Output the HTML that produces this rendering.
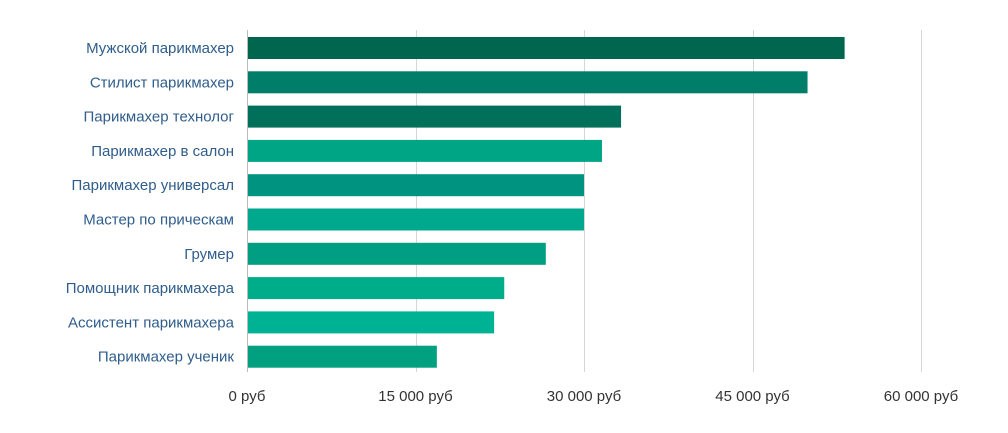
<!DOCTYPE html>
<html><head><meta charset="utf-8"><style>
body{margin:0;background:#fff;}
svg{display:block;font-family:"Liberation Sans",Arial,sans-serif;}
</style></head><body>
<svg width="1008" height="433" viewBox="0 0 1008 433" xmlns="http://www.w3.org/2000/svg">
<g id="grid"></g>
<g id="bars"></g>
<g id="labels"></g>
<g id="ticks"></g>
<line x1="247.5" y1="30" x2="247.5" y2="372" stroke="#bbb" stroke-width="1"/>
</svg>
<script>
const categories=["Мужской парикмахер","Стилист парикмахер","Парикмахер технолог","Парикмахер в салон","Парикмахер универсал","Мастер по прическам","Грумер","Помощник парикмахера","Ассистент парикмахера","Парикмахер ученик"];
const values=[53200,49900,33300,31600,30000,30000,26600,22900,22000,16900];
const colors=["#00664d","#007e6a","#00705a","#00a585","#009480","#00a88e","#009e82","#00ad8a","#00b294","#00a080"];
const tickValues=[0,15000,30000,45000,60000];
const tickLabels=["0 руб","15 000 руб","30 000 руб","45 000 руб","60 000 руб"];
const NS="http://www.w3.org/2000/svg";
const x=v=>247+v*(921-247)/60000;
const y=i=>37+i*34.3;
function mk(t,a,p){const e=document.createElementNS(NS,t);for(const k in a)e.setAttribute(k,a[k]);p.appendChild(e);return e;}
const G=document.getElementById('grid'),B=document.getElementById('bars'),L=document.getElementById('labels'),T=document.getElementById('ticks');
tickValues.forEach((v,i)=>{
 if(v>0){const g=mk('line',{x1:Math.round(x(v))+.5,x2:Math.round(x(v))+.5,y1:30,y2:372,stroke:'#d6d6d6','stroke-width':1},G);
 
 }
 const t=mk('text',{x:x(v),y:401,'text-anchor':'middle','font-size':15,fill:'#333'},T);t.textContent=tickLabels[i];
 
 
});
categories.forEach((c,i)=>{
 const r=mk('rect',{x:248,y:y(i),width:x(values[i])-248,height:22,fill:colors[i]},B);
 
 
 const t=mk('text',{x:234,y:y(i)+16,'text-anchor':'end','font-size':15,fill:'#2f5d8c'},L);t.textContent=c;
 
 
});
</script>
</body></html>
